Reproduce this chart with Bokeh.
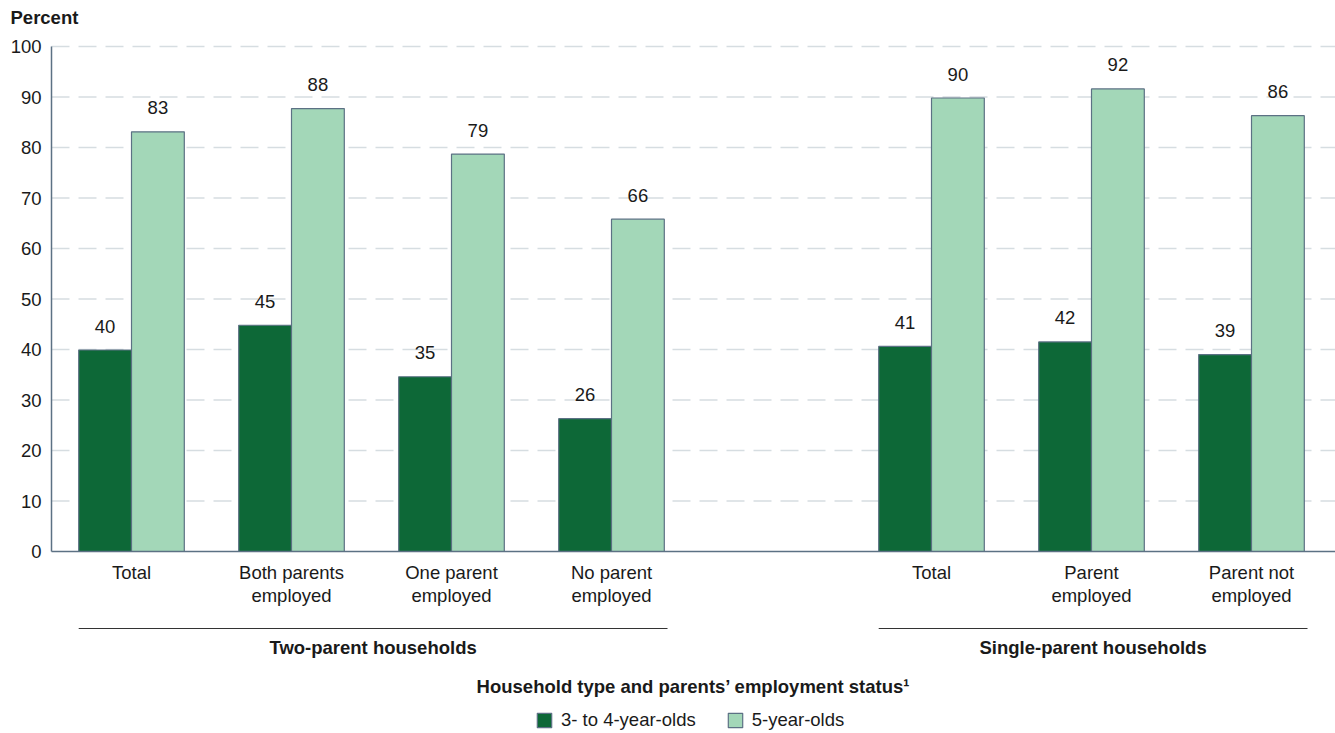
from bokeh.plotting import figure
from bokeh.models import Range1d, ColumnDataSource, Legend, LegendItem
from bokeh.core.properties import value
from bokeh.embed import file_html
from bokeh.resources import INLINE

# ---- data -------------------------------------------------------------
groups = ["Two-parent households"] * 4 + ["Single-parent households"] * 3
categories = [
    "Total",
    "Both parents\nemployed",
    "One parent\nemployed",
    "No parent\nemployed",
    "Total",
    "Parent\nemployed",
    "Parent not\nemployed",
]
age_3_to_4 = [39.9, 44.8, 34.6, 26.3, 40.6, 41.5, 39.0]
age_5 = [83.1, 87.7, 78.7, 65.8, 89.8, 91.6, 86.3]
series_labels = ["3- to 4-year-olds", "5-year-olds"]
y_ticks = [0, 10, 20, 30, 40, 50, 60, 70, 80, 90, 100]
y_title = "Percent"
x_title = "Household type and parents\u2019 employment status\u00b9"

# ---- styling ----------------------------------------------------------
FONT = "Liberation Sans"
FS = "18.5px"
TEXT = "#1a1a1a"
DARK = "#0d6837"
LIGHT = "#a3d7b8"
EDGE = "#5c7184"
GRID = "#d6dde1"
RULE = "#333333"

W, H = 1335, 733
LEFT, TOP = 51, 46              # room left of the value axis / above 100
PLOT_H = 505                    # pixels from 0 to 100
PX = PLOT_H / 100.0             # pixels per percentage point
BELOW = H - TOP - PLOT_H        # room under the zero line
SLOT_PX = 160.0                 # one category slot
BAR_W = 0.33


def units_below(px):
    """Distance below the zero line, converted to y units."""
    return -px / PX


# slot positions: one empty slot between household groups
positions = []
slot = 0
for i, g in enumerate(groups):
    if i > 0 and g != groups[i - 1]:
        slot += 1
    positions.append(slot + 0.5)
    slot += 1

x_start = -LEFT / SLOT_PX
x_end = (W - LEFT) / SLOT_PX
y_start = units_below(BELOW)
y_end = 100 + TOP / PX

p = figure(
    width=W, height=H, title=None,
    x_range=Range1d(x_start, x_end), y_range=Range1d(y_start, y_end),
    x_axis_location=None, y_axis_location=None,
    output_backend="svg", toolbar_location=None,
    min_border=0, outline_line_color=None,
)
p.background_fill_color = "white"
p.border_fill_color = "white"
for g in p.grid:
    g.visible = False

# dashed gridlines (above zero) from the value axis to the right edge
grid_ticks = [t for t in y_ticks if t > 0]
p.segment(x0=[0] * len(grid_ticks), y0=grid_ticks,
          x1=[x_end] * len(grid_ticks), y1=grid_ticks,
          line_color=GRID, line_width=1.3, line_dash="18 9")

# value axis tick labels and heading
p.text(x=[0] * len(y_ticks), y=y_ticks, text=[str(t) for t in y_ticks],
       x_offset=-10, text_align="right", text_baseline="middle",
       text_font=value(FONT), text_font_size=FS, text_color=TEXT)
p.text(x=[0], y=[100], text=[y_title], x_offset=-41, y_offset=-29,
       text_align="left", text_baseline="middle",
       text_font=value(FONT), text_font_size=FS, text_font_style="bold",
       text_color=TEXT)

# bars
src = ColumnDataSource(dict(
    x_dark=[x - BAR_W / 2 for x in positions],
    x_light=[x + BAR_W / 2 for x in positions],
    dark=age_3_to_4,
    light=age_5,
    dark_lbl=[f"{v:.0f}" for v in age_3_to_4],
    light_lbl=[f"{v:.0f}" for v in age_5],
))
r_dark = p.vbar(x="x_dark", top="dark", bottom=0, width=BAR_W, source=src,
                fill_color=DARK, line_color=EDGE, line_width=1.2)
r_light = p.vbar(x="x_light", top="light", bottom=0, width=BAR_W, source=src,
                 fill_color=LIGHT, line_color=EDGE, line_width=1.2)

# value labels
for xcol, ycol, lcol in (("x_dark", "dark", "dark_lbl"), ("x_light", "light", "light_lbl")):
    p.text(x=xcol, y=ycol, text=lcol, source=src, y_offset=-24,
           text_align="center", text_baseline="middle",
           text_font=value(FONT), text_font_size=FS, text_color=TEXT)

# axis lines
p.segment(x0=[0, 0], y0=[0, 0], x1=[0, x_end], y1=[100, 0],
          line_color=EDGE, line_width=1.5)

# category labels (one row per text line)
lx, ly, lt = [], [], []
for x, cat in zip(positions, categories):
    for k, line in enumerate(cat.split("\n")):
        lx.append(x)
        ly.append(units_below(21 + 23 * k))
        lt.append(line)
p.text(x=lx, y=ly, text=lt, text_align="center", text_baseline="middle",
       text_font=value(FONT), text_font_size=FS, text_color=TEXT)

# group rules and group names
group_names = list(dict.fromkeys(groups))
gx0, gx1, gxc, gname = [], [], [], []
for g in group_names:
    xs = [x for x, gg in zip(positions, groups) if gg == g]
    a, b = min(xs) - BAR_W, max(xs) + BAR_W + 0.02
    gx0.append(a)
    gx1.append(b)
    gxc.append((a + b) / 2)
    gname.append(g)
gy = units_below(77)
p.segment(x0=gx0, y0=[gy] * len(gx0), x1=gx1, y1=[gy] * len(gx1),
          line_color=RULE, line_width=1.2)
p.text(x=gxc, y=[units_below(96)] * len(gxc), text=gname,
       text_align="center", text_baseline="middle",
       text_font=value(FONT), text_font_size=FS, text_font_style="bold",
       text_color=TEXT)

# category axis title
p.text(x=[x_end / 2], y=[units_below(135)], text=[x_title],
       text_align="center", text_baseline="middle",
       text_font=value(FONT), text_font_size=FS, text_font_style="bold",
       text_color=TEXT)

# legend
legend = Legend(
    items=[LegendItem(label=series_labels[0], renderers=[r_dark]),
           LegendItem(label=series_labels[1], renderers=[r_light])],
    orientation="horizontal", location=(535, 2),
    glyph_width=18, glyph_height=18, label_standoff=8, spacing=30,
    padding=0, margin=0, border_line_color=None, background_fill_alpha=0,
    label_text_font=FONT, label_text_font_size=FS, label_text_color=TEXT,
)
p.add_layout(legend)

open("out.html", "w").write(file_html(p, INLINE))
